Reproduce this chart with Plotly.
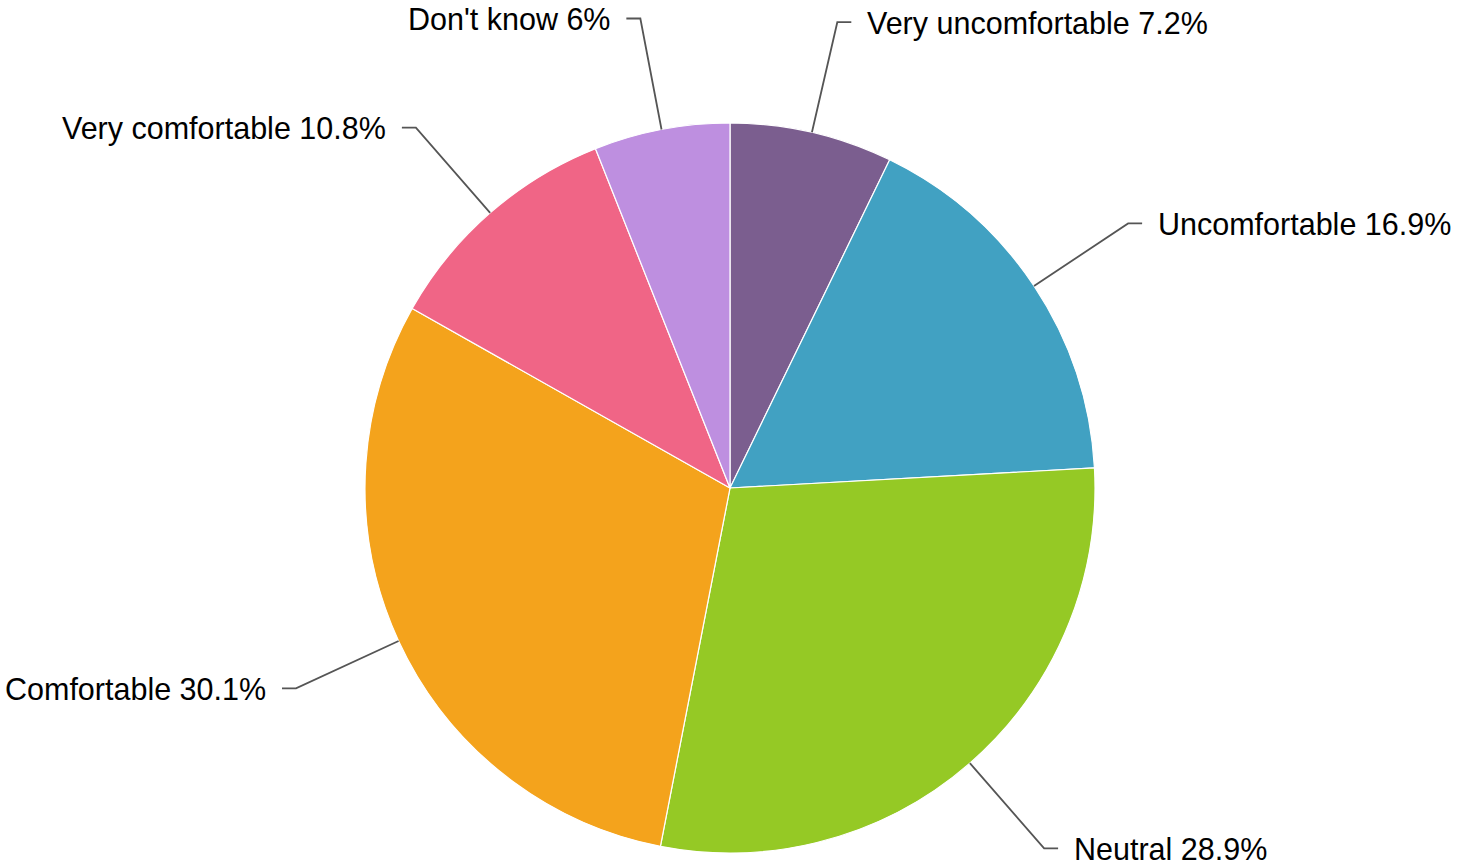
import math
import plotly.graph_objects as go

# Survey responses, in slice order (clockwise from 12 o'clock)
categories = ["Very uncomfortable", "Uncomfortable", "Neutral",
              "Comfortable", "Very comfortable", "Don't know"]
shares = [7.2, 16.9, 28.9, 30.1, 10.8, 6]
label_values = ["7.2%", "16.9%", "28.9%", "30.1%", "10.8%", "6%"]
colors = ["#7B5E8F", "#41A1C2", "#95C925", "#F4A31C", "#F06586", "#BE8FE0"]

W, H = 1476, 864
CX, CY, R = 730, 488, 365          # pie centre and radius, in pixels
LEAD = 113                         # radial part of the leader line
ELBOW = 14                         # horizontal part of the leader line
GAP = 14                           # space between leader and label

def px(x):
    return x / W

def py(y):
    return 1 - y / H

fig = go.Figure(go.Pie(
    labels=categories,
    values=shares,
    sort=False,
    direction="clockwise",
    rotation=0,
    textinfo="none",
    hoverinfo="label+percent",
    marker=dict(colors=colors, line=dict(color="white", width=1.2)),
    domain=dict(x=[px(CX - R), px(CX + R)], y=[py(CY + R), py(CY - R)]),
    showlegend=False,
))

shapes = []
annotations = []
total = sum(shares)
cum = 0.0
for name, val, txt in zip(categories, shares, label_values):
    mid = (cum + val / 2) / total * 2 * math.pi
    cum += val
    sx, sy = math.sin(mid), -math.cos(mid)
    x0, y0 = CX + R * sx, CY + R * sy
    x1, y1 = CX + (R + LEAD) * sx, CY + (R + LEAD) * sy
    side = 1 if sx >= 0 else -1
    x2 = x1 + side * ELBOW
    path = (f"M {px(x0)} {py(y0)} L {px(x1)} {py(y1)} L {px(x2)} {py(y1)}")
    shapes.append(dict(type="path", xref="paper", yref="paper", path=path,
                       line=dict(color="#555555", width=1.8)))
    annotations.append(dict(
        xref="paper", yref="paper",
        x=px(x2 + side * GAP), y=py(y1 + 1),
        xanchor="left" if side > 0 else "right", yanchor="middle",
        text=f"{name} {txt}", showarrow=False,
        font=dict(family="Liberation Sans, Arial, sans-serif", size=30.5,
                  color="#000000"),
    ))

fig.update_layout(
    width=W, height=H,
    margin=dict(l=0, r=0, t=0, b=0),
    paper_bgcolor="white",
    plot_bgcolor="white",
    shapes=shapes,
    annotations=annotations,
)

fig.write_html("out.html")
